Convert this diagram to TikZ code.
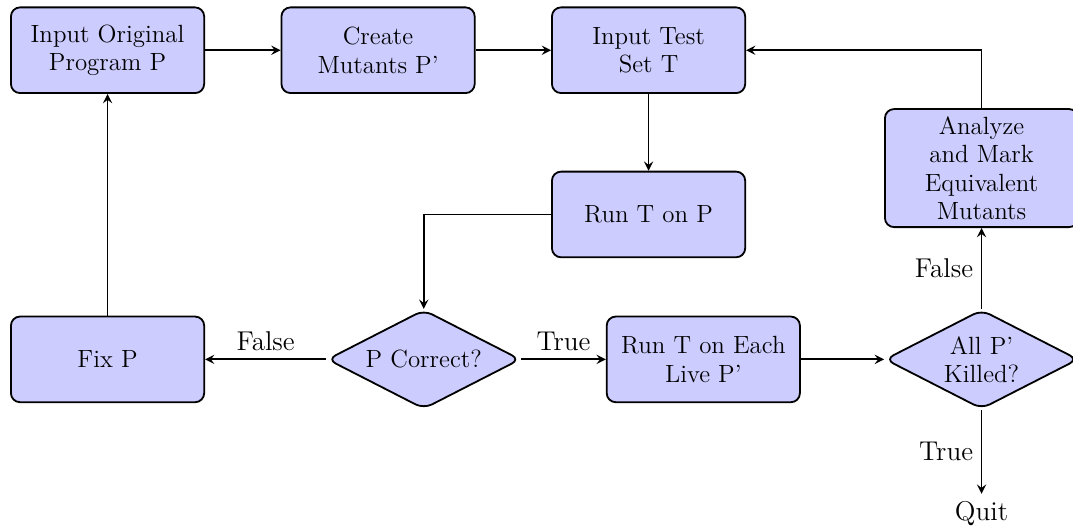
\documentclass[tikz,border=0pt]{standalone}
\usepackage{tikz}
\usetikzlibrary{shapes.geometric, arrows}
\tikzstyle{process} = [rectangle, rounded corners, minimum width=3cm, minimum height=1.33cm, text centered, align=center, draw=black, thick, fill=blue!20, font=\fontsize{11}{12.5}\selectfont]
\tikzstyle{decision} = [diamond, rounded corners, minimum width=3cm, minimum height=1.54cm, inner sep=0pt, text centered, align=center, draw=black, thick, aspect=2, fill=blue!20, font=\fontsize{11}{12.5}\selectfont]
\tikzstyle{arrow} = [thick, ->, >=stealth]
\tikzstyle{label} = [font=\large]

\begin{document}
\begin{tikzpicture}[node distance = 4.2cm]

        \useasboundingbox (0,0) rectangle (16.66,-8.18);

            \node (input) [process] at (1.67,-0.78) {Input Original \\ Program P};

            \node (mutants) [process, right of=input] {Create \\ Mutants P'};

            \node (testset) [process, right of=mutants] {Input Test \\ Set T};

            \node (runp) [process, below of=testset, yshift=1.65cm] {Run T on P};

            \node (fix) [process, below of=input, yshift=-0.6cm] {Fix P};

            \node (correct) [decision, right of=fix, xshift=0.71cm] {P Correct?};

            \node (runeach) [process, right of=correct, xshift=0.14cm] {Run T on Each \\ Live P'};

            \node (killed) [decision, right of=runeach, xshift=0.12cm] {All P' \\ Killed?};

            \node (analyze) [process, above of=killed, yshift=-1.23cm] {Analyze \\ and Mark \\ Equivalent \\ Mutants};

            \node (quit) [label, below of=killed, yshift=1.8cm] {Quit};


            \draw [arrow] (input) -- (mutants);
            \draw [arrow] (mutants) -- (testset);
            \draw [arrow] (testset) -- (runp);
            \draw [arrow] (runp.west) -| (correct.north);
            \draw [arrow] (correct) -- node[label, anchor=south] {False} (fix);
            \draw [arrow] (correct) -- node[label, anchor=south] {True} (runeach);
            \draw [arrow] (fix) -- (input);
            \draw [arrow] (runeach) -- (killed);
            \draw [arrow] (killed) -- node[label, anchor=east] {False} (analyze);
            \draw [arrow] (killed) -- node[label, anchor=east] {True} (quit);
            \draw [arrow] (analyze.north) |- (testset.east);


        \end{tikzpicture}
\end{document}
